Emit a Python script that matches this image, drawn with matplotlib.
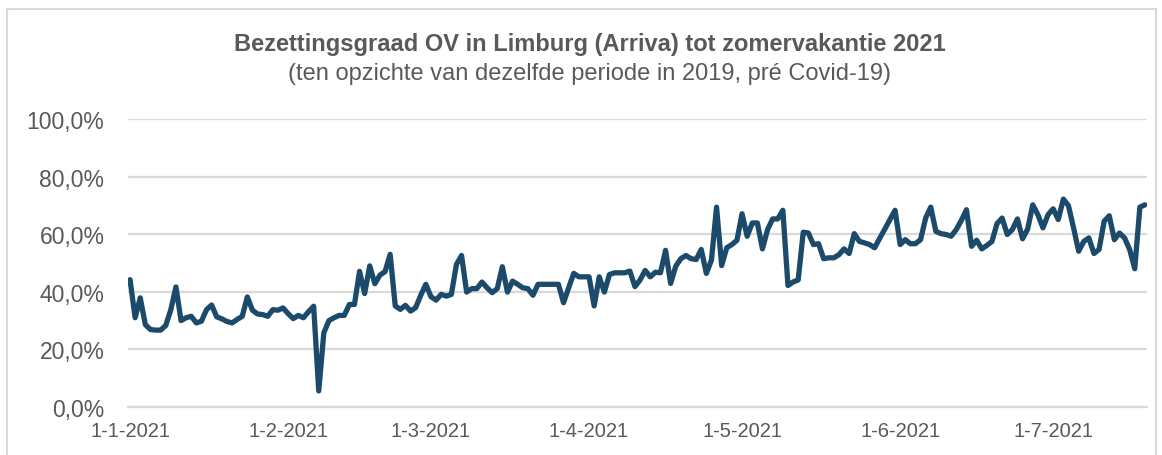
import numpy as np
import pandas as pd
import matplotlib
matplotlib.use('Agg')
import matplotlib.pyplot as plt
import matplotlib.dates as mdates
from matplotlib.patches import Rectangle

plt.rcParams['font.family'] = ['Liberation Sans', 'DejaVu Sans']

# bezettingsgraad per dag (% t.o.v. 2019), vanaf 1-1-2021
jan = [44.2, 31.0, 37.9, 28.6, 26.9, 26.7, 26.7, 28.3, 33.8, 41.7,
       30.0, 31.0, 31.5, 29.2, 29.8, 33.8, 35.4, 31.3, 30.6, 29.7,
       29.2, 30.4, 31.5, 38.2, 33.6, 32.3, 32.1, 31.5, 33.8, 33.6, 34.4]
feb = [32.4, 30.7, 31.8, 31.0, 33.1, 35.0, 5.6, 25.8, 30.0, 31.0,
       31.8, 31.8, 35.6, 35.6, 47.1, 39.4, 49.0, 42.8, 45.8, 47.0,
       53.0, 35.1, 33.9, 35.3, 33.3, 34.5, 38.8, 42.6]
mrt = [38.3, 37.1, 39.1, 38.5, 39.1, 49.5, 52.6, 39.9, 41.1, 41.1,
       43.4, 41.4, 39.7, 41.1, 48.7, 39.9, 43.7, 42.6, 41.4, 41.1,
       38.8, 42.6, 42.6, 42.6, 42.6, 42.6, 36.2, 41.4, 46.4, 45.2, 45.2]
apr = [45.2, 35.1, 45.2, 39.9, 46.0, 46.6, 46.6, 46.6, 47.2, 41.8,
       44.1, 47.4, 45.2, 46.8, 46.6, 54.4, 42.9, 48.9, 51.5, 52.6,
       51.5, 51.2, 54.7, 46.4, 51.0, 69.4, 49.1, 55.3, 56.4, 57.9]
mei = [67.1, 59.3, 63.9, 63.9, 54.9, 61.6, 65.3, 65.3, 68.3, 42.2,
       43.4, 44.1, 60.7, 60.4, 56.4, 56.7, 51.5, 51.8, 51.8, 52.9,
       54.9, 53.3, 60.2, 57.5, 57.0, 56.4, 55.3, 58.6, 61.8, 65.1, 68.3]
jun = [56.4, 58.1, 56.7, 56.7, 58.1, 65.6, 69.4, 61.0, 60.2, 59.9,
       59.3, 61.6, 64.8, 68.5, 55.8, 57.9, 54.9, 56.1, 57.5, 63.7,
       65.6, 59.9, 61.6, 65.3, 58.4, 61.8, 70.2, 66.8, 62.2, 66.8]
jul = [68.8, 65.1, 72.2, 69.9, 62.2, 54.1, 57.5, 58.7, 53.3, 54.7,
       64.5, 66.4, 58.1, 60.4, 58.7, 54.7, 48.0, 69.4, 70.2]

waarden = jan + feb + mrt + apr + mei + jun + jul
datums = pd.date_range('2021-01-01', periods=len(waarden), freq='D')
maanden = pd.date_range('2021-01-01', '2021-07-01', freq='MS')

grijs = '#595959'

fig = plt.figure(figsize=(11.62, 4.56), dpi=100)
fig.patches.append(Rectangle((7 / 1162, -0.1), 1149 / 1162, 1.1 - 10 / 456,
                             transform=fig.transFigure, fill=False,
                             edgecolor='#d9d9d9', linewidth=1.5))

ax = fig.add_axes([128 / 1162, 48 / 456, 1019 / 1162, 288 / 456])
ax.plot(mdates.date2num(datums), waarden, color='#1b4a6b', linewidth=3.8,
        solid_joinstyle='round', solid_capstyle='round', zorder=3)

x0 = mdates.date2num(datums[0])
x1 = mdates.date2num(datums[-1])
ax.set_xlim(x0 - 0.4, x1 + 0.4)
ax.set_ylim(0, 100)

ax.set_yticks([0, 20, 40, 60, 80, 100])
ax.set_yticklabels([f'{v:.1f}%'.replace('.', ',') for v in [0, 20, 40, 60, 80, 100]])
ax.set_xticks(mdates.date2num(maanden))
ax.set_xticklabels([f'{d.day}-{d.month}-{d.year}' for d in maanden])

ax.grid(axis='y', color='#d9d9d9', linewidth=1.6)
ax.set_axisbelow(True)
for s in ['top', 'right', 'left']:
    ax.spines[s].set_visible(False)
ax.spines['bottom'].set_color('#d9d9d9')
ax.spines['bottom'].set_linewidth(1.6)
ax.tick_params(axis='both', length=0, colors=grijs)
ax.tick_params(axis='y', pad=17, labelsize=16.5)
ax.tick_params(axis='x', pad=10, labelsize=14.5)

fig.text(590 / 1162, 1 - 45 / 456, 'Bezettingsgraad OV in Limburg (Arriva) tot zomervakantie 2021',
         ha='center', va='center', fontsize=17, fontweight='bold', color=grijs)
fig.text(590 / 1162, 1 - 74 / 456, '(ten opzichte van dezelfde periode in 2019, pré Covid-19)',
         ha='center', va='center', fontsize=17, color=grijs)

fig.savefig('out.png', dpi=100)
